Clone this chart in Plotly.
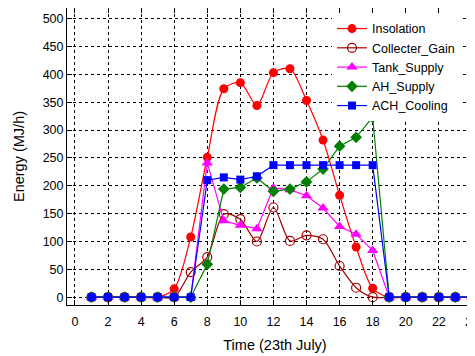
import plotly.graph_objects as go

hours = list(range(1, 25))
insolation = [0, 0, 0, 0, 0, 15, 108, 251, 374, 385, 344, 403, 410, 353, 282, 183, 90, 16, 0, 0, 0, 0, 0, 0]
collector_gain = [0, 0, 0, 0, 0, 0, 45, 72, 149, 140, 100, 161, 101, 111, 104, 56, 17, 0, 0, 0, 0, 0, 0, 0]
tank_supply = [0, 0, 0, 0, 0, 0, 0, 241, 137, 129, 123, 196, 193, 182, 160, 127, 113, 84, 0, 0, 0, 0, 0, 0]
ah_supply = [0, 0, 0, 0, 0, 0, 0, 59, 194, 197, 214, 190, 194, 207, 230, 271, 287, 323, 0, 0, 0, 0, 0, 0]
ach_cooling = [0, 0, 0, 0, 0, 0, 0, 210, 215, 211, 217, 237, 237, 237, 237, 237, 237, 237, 0, 0, 0, 0, 0, 0]

series = [
    ("Insolation", insolation, "#ff0000", "circle", 9, "spline"),
    ("Collecter_Gain", collector_gain, "#a00000", "circle-open", 9, "spline"),
    ("Tank_Supply", tank_supply, "#ff00ff", "triangle-up", 10, "linear"),
    ("AH_Supply", ah_supply, "#008000", "diamond", 9, "linear"),
    ("ACH_Cooling", ach_cooling, "#0000ff", "square", 8, "linear"),
]

fig = go.Figure()
for name, vals, color, sym, size, shape in series:
    marker = dict(symbol=sym, size=size, color=color)
    if sym == "circle-open":
        marker["line"] = dict(color=color, width=1.2)
    fig.add_trace(go.Scatter(
        x=hours, y=vals, name=name, mode="lines+markers",
        line=dict(color=color, width=1.2, shape=shape, smoothing=0.8),
        marker=marker,
    ))

fig.update_layout(
    width=475, height=356,
    margin=dict(l=59, r=0, t=0, b=59, autoexpand=False),
    paper_bgcolor="white", plot_bgcolor="white",
    font=dict(family="Liberation Sans, Arial, sans-serif", size=12, color="black"),
    showlegend=True,
    legend=dict(x=0.637, y=0.98, xanchor="left", yanchor="top",
                bgcolor="rgba(255,255,255,1)", borderwidth=0,
                font=dict(size=12.5), tracegroupgap=0, itemwidth=30),
)
fig.update_xaxes(
    range=[-0.48, 24.67], tickmode="linear", tick0=0, dtick=2,
    ticks="inside", ticklen=5, tickcolor="black",
    showline=True, linecolor="black", linewidth=1, mirror="ticks",
    showgrid=True, gridcolor="black", griddash="dot", gridwidth=1,
    zeroline=False, automargin=False,
    tickfont=dict(size=12.5), ticklabelstandoff=5,
    title=dict(text="Time (23th July)", font=dict(size=14.5), standoff=11),
)
fig.update_yaxes(
    range=[-14, 519], tickmode="linear", tick0=0, dtick=50,
    ticks="inside", ticklen=5, tickcolor="black",
    showline=True, linecolor="black", linewidth=1, mirror="ticks",
    showgrid=True, gridcolor="black", griddash="dot", gridwidth=1,
    zeroline=False, automargin=False,
    tickfont=dict(size=12.5),
    title=dict(text="Energy (MJ/h)", font=dict(size=14.5), standoff=14),
)

fig.write_html("out.html")
